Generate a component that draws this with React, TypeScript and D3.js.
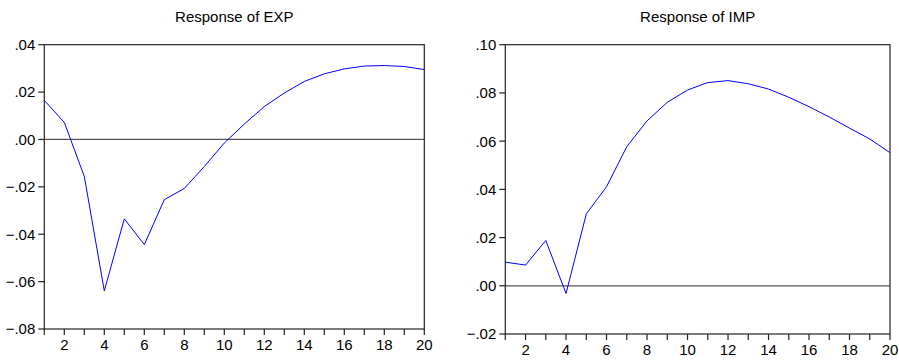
import React from 'react';
import * as d3 from 'd3';

// impulse response periods and values
const periods = d3.range(1, 21);
const expResponse = [0.0165, 0.0072, -0.0156, -0.0639, -0.0335, -0.0444, -0.0254, -0.0207, -0.0114, -0.0015,
  0.0065, 0.0139, 0.0196, 0.0245, 0.0277, 0.0298, 0.0310, 0.0312, 0.0308, 0.0295];
const impResponse = [0.0098, 0.0086, 0.0188, -0.0032, 0.0298, 0.0411, 0.0577, 0.0684, 0.0761, 0.0812,
  0.0843, 0.0851, 0.0838, 0.0816, 0.0782, 0.0743, 0.0700, 0.0654, 0.0609, 0.0552];
const expTicks = [-0.08, -0.06, -0.04, -0.02, 0, 0.02, 0.04];
const impTicks = [-0.02, 0, 0.02, 0.04, 0.06, 0.08, 0.10];
const xLabels = [2, 4, 6, 8, 10, 12, 14, 16, 18, 20];

const font = '"Liberation Sans", Arial, sans-serif';
const fmt = (v: number) => d3.format('.2f')(v).replace('0.', '.');

type PanelProps = {
  title: string;
  values: number[];
  ticks: number[];
  left: number;
  right: number;
  top: number;
  bottom: number;
};

const Panel = ({ title, values, ticks, left, right, top, bottom }: PanelProps) => {
  const x = d3.scaleLinear().domain([1, 20]).range([left, right]);
  const y = d3.scaleLinear().domain([ticks[0], ticks[ticks.length - 1]]).range([bottom, top]);
  const line = d3.line<number>().x((d, i) => x(periods[i])).y(d => y(d));

  return (
    <g>
      <text x={(left + right) / 2} y={22} textAnchor="middle" fontSize={15} fontFamily={font} fill="#000">
        {title}
      </text>
      {/* zero line */}
      <line x1={left} x2={right} y1={y(0)} y2={y(0)} stroke="#555" strokeWidth={1.2} />
      <path d={line(values) || ''} fill="none" stroke="#0000ff" strokeWidth={1} />
      <rect x={left} y={top} width={right - left} height={bottom - top} fill="none" stroke="#222" strokeWidth={1.2} />
      {ticks.map(t => (
        <g key={t}>
          <line x1={left - 6} x2={left} y1={y(t)} y2={y(t)} stroke="#222" strokeWidth={1.2} />
          <text x={left - 9} y={y(t)} dy="0.36em" textAnchor="end" fontSize={15} fontFamily={font} fill="#000">
            {fmt(t)}
          </text>
        </g>
      ))}
      {periods.map(p => (
        <line key={p} x1={x(p)} x2={x(p)} y1={bottom} y2={bottom + 6} stroke="#222" strokeWidth={1.2} />
      ))}
      {xLabels.map(p => (
        <text key={p} x={x(p)} y={bottom + 21} textAnchor="middle" fontSize={15} fontFamily={font} fill="#000">
          {p}
        </text>
      ))}
    </g>
  );
};

export default function App() {
  return (
    <svg width={899} height={360} style={{ position: 'absolute', left: 0, top: 0, background: '#fff' }}>
      <rect width={899} height={360} fill="#fff" />
      <Panel title="Response of EXP" values={expResponse} ticks={expTicks} left={44.3} right={424.3} top={44.7} bottom={329} />
      <Panel title="Response of IMP" values={impResponse} ticks={impTicks} left={505.3} right={890} top={44.7} bottom={334} />
    </svg>
  );
}
